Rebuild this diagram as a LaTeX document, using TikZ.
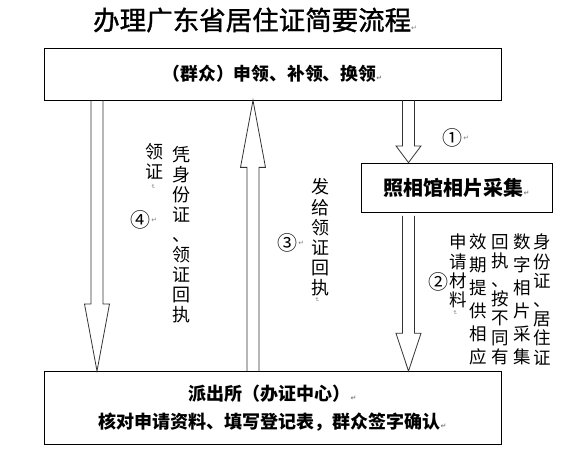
\documentclass[tikz,border=0pt]{standalone}
\usepackage{fontspec}
\setmainfont{Noto Sans CJK SC}
\newfontfamily\titlefont[FakeBold=1.2]{Noto Sans CJK SC}
\newfontfamily\markfont{DejaVu Sans}
\usepackage{tikz}
\usetikzlibrary{positioning, calc}

\newcommand{\retmark}{{\markfont\fontsize{7}{7}\selectfont\textcolor{gray}{↵}}}
\newcommand{\flowarrow}[3]{%
  \draw[flowline] let \p1=(#1), \p2=(#2), \n1={sign(\y2-\y1)*#3} in
    ({\x1-6},\y1) -- ({\x1-6},{\y2-(\n1)}) -- ({\x1-12.5},{\y2-(\n1)}) -- (\x1,\y2)
    -- ({\x1+12.5},{\y2-(\n1)}) -- ({\x1+6},{\y2-(\n1)}) -- ({\x1+6},\y1);}

\begin{document}
\begin{tikzpicture}[x=1pt, y=1pt,
    box/.style={draw, line width=0.8pt, inner sep=0pt, align=center,
      font=\bfseries\fontsize{18}{28}\selectfont},
    flowline/.style={draw=black!80, line width=0.8pt, line join=miter},
    vcol/.style={inner sep=0pt, align=center},
    num/.style={inner sep=0pt, font=\fontsize{20}{20}\selectfont},
    vmark/.style={inner sep=0pt, rotate=-90, font=\markfont\fontsize{6}{6}\selectfont, text=gray}]
  \useasboundingbox (0,0) rectangle (576,470);

  \node[inner sep=0pt, anchor=west, font=\titlefont\fontsize{26.5}{26.5}\selectfont] (title) at (93,450)
    {办理广东省居住证简要流程\retmark};

  \node[box, minimum width=457, minimum height=52] (top) at (272.5,396)
    {\fontsize{17.8}{20}\selectfont（群众）申领、补领、换领\retmark};
  \node[box, minimum width=191, minimum height=49] (photo) at (456.5,282.5)
    {\fontsize{20}{22}\selectfont 照相馆相片采集\retmark};
  \node[box, minimum width=457, minimum height=72.5] (bottom) at (272.5,62.3)
    {派出所（办证中心）\retmark\\ 核对申请资料、填写登记表，群众签字确认\retmark};

  \coordinate (a4) at (97,0);
  \coordinate (a3) at (253,0);
  \coordinate (a1) at (408.5,0);

  \flowarrow{top.south -| a4}{bottom.north -| a4}{67}
  \flowarrow{bottom.north -| a3}{top.south -| a3}{67}
  \flowarrow{top.south -| a1}{photo.north -| a1}{16.6}
  \flowarrow{$(photo.south -| a1)+(0,-3.5)$}{bottom.north -| a1}{37.7}

  \node[vcol, font=\fontsize{18}{19.5}\selectfont] (getcard) at (154,308.5) {领\\证};
  \node[vmark] (getmark) at (153,283) {↵};
  \node[vcol, font=\fontsize{18}{20}\selectfont] (showcard) at (181,235.5)
    {凭\\身\\份\\证\\、\\领\\证\\回\\执};
  \node[num] (n4) at (140,250) {④};
  \node[inner sep=0pt, right=1pt of n4] (n4mark) {\retmark};

  \node[vcol, font=\fontsize{18}{20.2}\selectfont] (issue) at (320,232.5)
    {发\\给\\领\\证\\回\\执};
  \node[vmark] (issuemark) at (317,170) {↵};
  \node[num] (n3) at (287,227) {③};
  \node[inner sep=0pt, right=1pt of n3] (n3mark) {\retmark};

  \node[num] (n1) at (452,332) {①};
  \node[inner sep=0pt, right=1pt of n1] (n1mark) {\retmark};

  \node[vcol, font=\fontsize{17.5}{19.2}\selectfont] (colA) at (542,170.5)
    {身\\份\\证\\、\\居\\住\\证};
  \node[vcol, font=\fontsize{17.5}{23}\selectfont] (colB) at (522,170.5)
    {数\\字\\相\\片\\采\\集};
  \node[vcol, font=\fontsize{17.5}{19.2}\selectfont] (colC) at (500,170.5)
    {回\\执\\、\\按\\不\\同\\有};
  \node[vcol, font=\fontsize{17.5}{23}\selectfont] (colD) at (478,170.5)
    {效\\期\\提\\供\\相\\应};
  \node[vcol, font=\fontsize{17.5}{19.3}\selectfont] (colE) at (458,199)
    {申\\请\\材\\料};
  \node[vmark] (colEmark) at (455,157) {↵};
  \node[num] (n2) at (438,188) {②};
\end{tikzpicture}
\end{document}
